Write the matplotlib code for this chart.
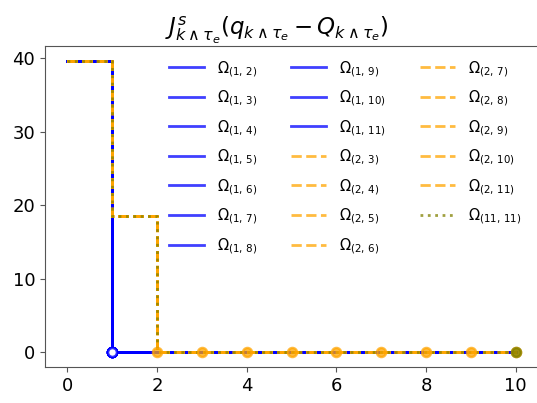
import numpy as np
import matplotlib
matplotlib.use('Agg')
import matplotlib.pyplot as plt

TIMES = np.arange(0, 11)

# Omega(1, j): stops at time 1
OMEGA_1_J = [2, 3, 4, 5, 6, 7, 8, 9, 10, 11]
VALUES_1 = [39.7, 0, 0, 0, 0, 0, 0, 0, 0, 0, 0]
STOP_1 = [1, 1, 1, 1, 1, 1, 1, 1, 1, 1]

# Omega(2, j): stops at time j-1
OMEGA_2_J = [3, 4, 5, 6, 7, 8, 9, 10, 11]
VALUES_2 = [39.7, 18.6, 0, 0, 0, 0, 0, 0, 0, 0, 0]
STOP_2 = [2, 3, 4, 5, 6, 7, 8, 9, 10]

# Omega(11, 11)
VALUES_11 = [39.7, 18.6, 0, 0, 0, 0, 0, 0, 0, 0, 0]
STOP_11 = 10

TITLE = r'$J^s_{k\wedge\tau_e}(q_{k\wedge\tau_e} - Q_{k\wedge\tau_e})$'

GREY = '#555555'


def plot_series(ax, values, stop, color, ls, label, hollow=False):
    ax.plot(TIMES, values, drawstyle='steps-post', color=color, ls=ls,
            lw=2, alpha=0.75, label=label, zorder=2)
    ax.plot([stop], [values[stop]], 'o', color=color, ms=6.5,
            mfc='white' if hollow else color, mew=1.8, alpha=0.75, zorder=3)


fig = plt.figure(figsize=(5.37, 4.03), dpi=100)
ax = fig.add_axes([45 / 537, 36 / 403, 493 / 537, 321 / 403])

for j, stop in zip(OMEGA_1_J, STOP_1):
    plot_series(ax, VALUES_1, stop, 'blue', '-', r'$\Omega_{(1,\,%d)}$' % j, hollow=True)
for j, stop in zip(OMEGA_2_J, STOP_2):
    plot_series(ax, VALUES_2, stop, 'orange', '--', r'$\Omega_{(2,\,%d)}$' % j)
plot_series(ax, VALUES_11, STOP_11, 'olive', ':', r'$\Omega_{(11,\,11)}$')

ax.set_title(TITLE, fontsize=16.5, x=0.47)
ax.set_xticks([0, 2, 4, 6, 8, 10])
ax.set_yticks([0, 10, 20, 30, 40])
ax.tick_params(labelsize=13, color=GREY)
for s in ax.spines.values():
    s.set_color(GREY)
ax.spines['right'].set_visible(False)

ax.legend(ncol=3, frameon=False, fontsize=10.5, loc='upper left',
          bbox_to_anchor=(0.225, 1.0), labelspacing=0.68, columnspacing=2.3,
          handlelength=2.4, handletextpad=0.9)

fig.savefig('out.png', dpi=100)
